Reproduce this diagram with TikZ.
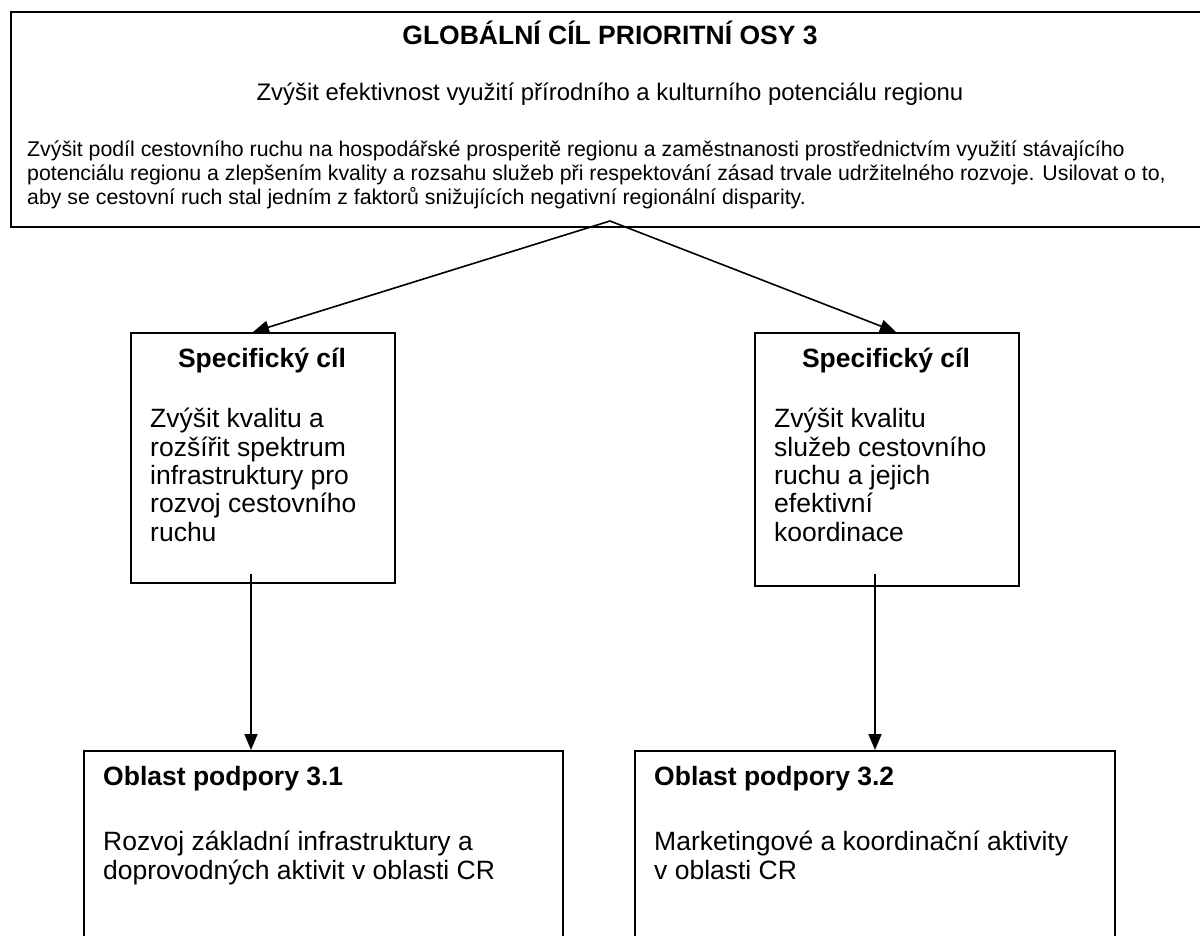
\documentclass[tikz,border=0pt]{standalone}
\usepackage{fontspec}
\setmainfont{Liberation Sans}
\usetikzlibrary{arrows.meta}

\tikzset{
  ramec/.style={draw=black, line width=2pt, anchor=north west, inner sep=0pt},
  sipka/.style={draw=black, line width=1.6pt, -{Triangle[length=16pt,width=13pt]}},
  nadpis/.style={font=\fontsize{26.5}{28}\selectfont\bfseries, inner sep=0pt},
  podnadpis/.style={font=\fontsize{23.9}{27}\selectfont, inner sep=0pt},
  odstavec/.style={font=\fontsize{21.3}{24}\selectfont, inner sep=0pt, align=left, anchor=base west},
  popis/.style={font=\fontsize{26.5}{28.3}\selectfont, inner sep=0pt, align=left, anchor=base west},
  popisdole/.style={font=\fontsize{26.5}{29}\selectfont, inner sep=0pt, align=left, anchor=base west}
}

\begin{document}
\begin{tikzpicture}[x=1pt, y=-1pt]
	\useasboundingbox (0,0) rectangle (1200,936);
	\clip (0,0) rectangle (1200,936);
	%Globalni cil
	\node[ramec, minimum width=1200pt, minimum height=215pt] (global) at (10,11) {};
	\node[nadpis, anchor=base] (gtitul) at (610,45) {GLOBÁLNÍ CÍL PRIORITNÍ OSY 3};
	\node[podnadpis, anchor=base] (gcil) at (610,101) {Zvýšit efektivnost využití přírodního a kulturního potenciálu regionu};
	% base = posledni radek
	\node[odstavec] (gpopis) at (27,205) {Zvýšit podíl cestovního ruchu na hospodářské prosperitě regionu a zaměstnanosti prostřednictvím využití stávajícího\\potenciálu regionu a zlepšením kvality a rozsahu služeb při respektování zásad trvale udržitelného rozvoje. Usilovat o to,\\aby se cestovní ruch stal jedním z faktorů snižujících negativní regionální disparity.};
	\coordinate (vrchol) at (610,221);

	%Specificke cile
	\node[ramec, minimum width=264pt, minimum height=250pt] (spec1) at (130,332) {};
	\node[nadpis, anchor=base] (stitul1) at (262,367) {Specifický cíl};
	\node[popis] (spopis1) at (150,541) {Zvýšit kvalitu a\\rozšířit spektrum\\infrastruktury pro\\rozvoj cestovního\\ruchu};

	\node[ramec, minimum width=264pt, minimum height=253pt] (spec2) at (754,332) {};
	\node[nadpis, anchor=base] (stitul2) at (886,367) {Specifický cíl};
	\node[popis] (spopis2) at (774,541) {Zvýšit kvalitu\\služeb cestovního\\ruchu a jejich\\efektivní\\koordinace};

	%Oblasti podpory
	\node[ramec, minimum width=479pt, minimum height=230pt] (oblast1) at (83,750) {};
	\node[nadpis, anchor=base west] (otitul1) at (103,785) {Oblast podpory 3.1};
	\node[popisdole] (opopis1) at (103,879) {Rozvoj základní infrastruktury a\\doprovodných aktivit v oblasti CR};

	\node[ramec, minimum width=480pt, minimum height=230pt] (oblast2) at (634,750) {};
	\node[nadpis, anchor=base west] (otitul2) at (654,785) {Oblast podpory 3.2};
	\node[popisdole] (opopis2) at (654,879) {Marketingové a koordinační aktivity\\v oblasti CR};

	%Sipky
	\draw[sipka] (vrchol) -- ([xshift=-10pt]spec1.north);
	\draw[sipka] (vrchol) -- ([xshift=9pt]spec2.north);
	\draw[sipka] ([xshift=-12pt,yshift=10pt]spec1.south) -- ([xshift=-12pt]spec1.south |- oblast1.north);
	\draw[sipka] ([xshift=-12pt,yshift=13pt]spec2.south) -- ([xshift=-12pt]spec2.south |- oblast2.north);
\end{tikzpicture}
\end{document}
